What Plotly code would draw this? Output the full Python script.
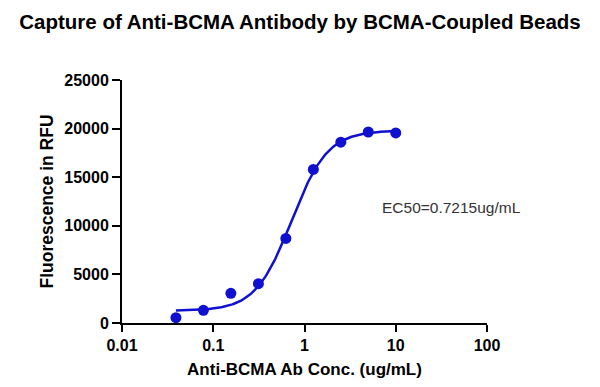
import numpy as np
import plotly.graph_objects as go

conc = [0.039, 0.078, 0.156, 0.3125, 0.625, 1.25, 2.5, 5, 10]
rfu = [550, 1300, 3050, 4050, 8700, 15800, 18600, 19650, 19550]

# 4PL fit parameters (bottom, top, EC50, Hill slope)
fit_bottom = 1250
fit_top = 19800
fit_ec50 = 0.7215
fit_hill = 2.2

x_ticks = [0.01, 0.1, 1, 10, 100]
x_tick_labels = ["0.01", "0.1", "1", "10", "100"]
y_ticks = [0, 5000, 10000, 15000, 20000, 25000]
y_tick_labels = ["0", "5000", "10000", "15000", "20000", "25000"]

xc = np.logspace(np.log10(conc[0]), np.log10(conc[-1]), 200)
yc = fit_bottom + (fit_top - fit_bottom) / (1 + (fit_ec50 / xc) ** fit_hill)

blue = "#1010D0"
fig = go.Figure()
fig.add_trace(go.Scatter(x=xc, y=yc, mode="lines", line=dict(color=blue, width=2.5),
                         showlegend=False, hoverinfo="skip"))
fig.add_trace(go.Scatter(x=conc, y=rfu, mode="markers",
                         marker=dict(color=blue, size=11), showlegend=False))

fig.add_annotation(x=0.708, y=0.477, xref="paper", yref="paper",
                   text="EC50=0.7215ug/mL", showarrow=False, xanchor="left",
                   yanchor="middle",
                   font=dict(family="Liberation Sans", size=15.5, color="#333333"))

axis_font = dict(family="Liberation Sans", size=16, color="black", weight="bold")
fig.update_layout(
    width=600, height=387,
    margin=dict(l=114, r=121, t=72, b=72),
    paper_bgcolor="white", plot_bgcolor="white",
    title=dict(text="<b>Capture of Anti-BCMA Antibody by BCMA-Coupled Beads</b>",
               x=292 / 600, xanchor="center", y=1 - 14 / 387, yref="container",
               yanchor="middle",
               font=dict(family="Liberation Sans", size=20.5, color="black")),
    xaxis=dict(type="log", range=[-2, 2], tickvals=x_ticks, ticktext=x_tick_labels,
               showgrid=False, zeroline=False, showline=True, linecolor="black",
               linewidth=2, ticks="outside", ticklen=7, tickwidth=2, tickcolor="black",
               tickfont=axis_font,
               title=dict(text="Anti-BCMA Ab Conc. (ug/mL)", standoff=10,
                          font=dict(family="Liberation Sans", size=17, color="black",
                                    weight="bold"))),
    yaxis=dict(range=[0, 25000], tickvals=y_ticks, ticktext=y_tick_labels,
               showgrid=False, zeroline=False,
               showline=True, linecolor="black", linewidth=2, ticks="outside",
               ticklen=8, tickwidth=2, tickcolor="black", tickfont=axis_font,
               title=dict(text="Fluorescence in RFU", standoff=6,
                          font=dict(family="Liberation Sans", size=17.5, color="black",
                                    weight="bold"))),
)
fig.write_html("out.html")
